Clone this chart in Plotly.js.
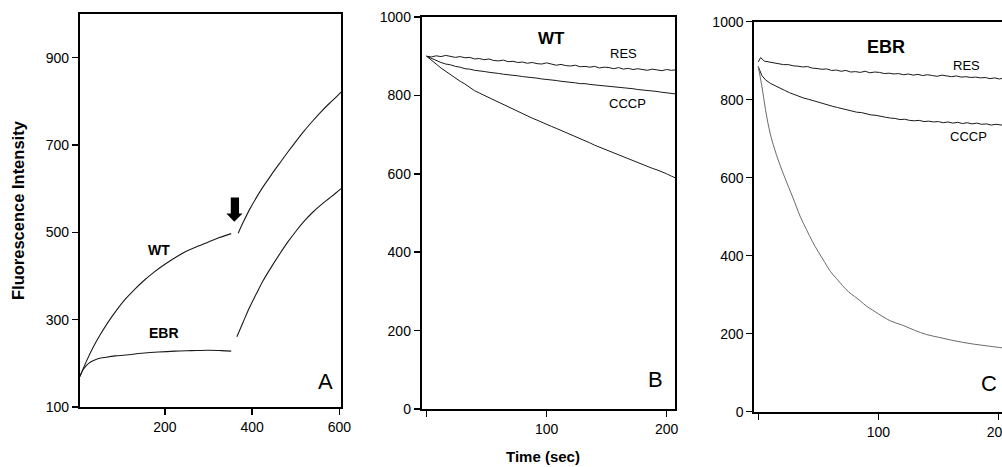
<!DOCTYPE html>
<html>
<head>
<meta charset="utf-8">
<script src="https://cdn.plot.ly/plotly-3.0.1.min.js"></script>
<style>html,body{margin:0;padding:0;background:#fff;}#chart{width:1002px;height:467px;}</style>
</head>
<body>
<div id="chart"></div>
<script>
// ---- Panel A data (time, fluorescence) ----
var aWT1x = [5, 20, 35, 50, 70, 90, 110, 130, 150, 175, 200, 225, 250, 275, 300, 325, 352];
var aWT1y = [170, 205, 236, 263, 295, 323, 348, 369, 388, 409, 427, 443, 457, 468, 478, 488, 497];
var aWT2x = [368, 380, 394, 410, 425, 445, 463, 482, 501, 520, 539, 558, 577, 592, 604];
var aWT2y = [498, 524, 552, 580, 604, 633, 658, 684, 709, 733, 755, 776, 795, 809, 821];
var aEBR1x = [5, 10, 17, 25, 35, 48, 65, 86, 110, 147, 185, 223, 260, 299, 330, 352];
var aEBR1y = [170, 182, 192, 200, 206, 211, 214, 217, 219, 223, 226, 228, 229, 230, 229, 228];
var aEBR2x = [365, 380, 394, 410, 425, 445, 463, 482, 501, 520, 539, 558, 577, 592, 604];
var aEBR2y = [261, 296, 328, 360, 389, 422, 450, 478, 503, 526, 546, 563, 578, 590, 600];

// ---- Panel B data (WT) ----
var tB = [0, 4, 8, 12, 16, 20, 24, 28, 32, 36, 40, 44, 48, 52, 56, 60, 64, 68, 72, 76, 80, 84, 88, 92, 96, 100,
          104, 108, 112, 116, 120, 124, 128, 132, 136, 140, 144, 148, 152, 156, 160, 164, 168, 172, 176, 180,
          184, 188, 192, 196, 200, 204, 207];
var bRES = [900, 898, 901, 899, 902, 900, 897, 899, 896, 897, 893, 894, 891, 893, 889, 888, 890, 886, 887, 884, 885,
            882, 884, 881, 880, 883, 879, 877, 879, 876, 875, 877, 873, 874, 872, 874, 870, 872, 871, 868, 871,
            867, 869, 866, 868, 866, 864, 867, 865, 863, 866, 864, 865];
var bCCCP = [900, 894, 889, 884, 880, 878, 874, 872, 868, 867, 864, 863, 861, 859, 858, 856, 854, 853, 851, 850, 848,
             847, 845, 844, 842, 841, 839, 838, 836, 835, 833, 832, 830, 830, 828, 827, 826, 824, 823, 822, 821,
             819, 818, 817, 815, 814, 812, 812, 810, 808, 807, 805, 804];
var bCtrl = [900, 891, 880, 870, 861, 852, 844, 836, 829, 820, 812, 806, 800, 794, 788, 782, 777, 771, 765, 759, 753,
             748, 742, 737, 731, 726, 721, 716, 711, 706, 701, 696, 690, 685, 679, 673, 668, 663, 657, 652, 647,
             642, 637, 633, 628, 624, 619, 614, 610, 606, 600, 594, 590];

// ---- Panel C data (EBR) ----
var tC = [0, 2, 5, 9, 13, 17, 21, 25, 29, 33, 37, 41, 45, 49, 53, 57, 61, 65, 69, 73, 77, 81, 85, 89, 93, 97, 101,
          105, 109, 113, 117, 121, 125, 129, 133, 137, 141, 145, 149, 153, 157, 161, 165, 169, 173, 177, 181,
          185, 189, 193, 197, 201, 203];
var cRES = [897, 908, 899, 897, 894, 893, 890, 890, 887, 886, 884, 885, 881, 880, 878, 879, 875, 876, 873, 875, 871,
            872, 870, 873, 869, 871, 870, 867, 868, 866, 867, 864, 866, 863, 865, 862, 864, 862, 860, 863, 861,
            859, 861, 858, 859, 857, 858, 856, 857, 854, 856, 853, 855];
var cCCCPt = [0, 3, 6, 10, 14, 18, 22, 26, 30, 34, 38, 42, 46, 50, 54, 58, 62, 66, 70, 74, 78, 82, 86, 90, 94, 98,
              102, 106, 110, 114, 118, 122, 126, 130, 134, 138, 142, 146, 150, 154, 158, 162, 166, 170, 174, 178,
              182, 186, 190, 194, 198, 203];
var cCCCP = [885, 862, 851, 842, 836, 829, 824, 818, 813, 809, 804, 801, 797, 793, 789, 787, 783, 780, 777, 775, 771,
             768, 767, 763, 761, 760, 757, 755, 753, 752, 749, 750, 747, 746, 747, 744, 745, 743, 744, 741, 743,
             740, 742, 739, 741, 738, 740, 737, 738, 735, 737, 735];
var cFastT = [0, 3, 6, 10, 15, 20, 25, 30, 35, 40, 45, 50, 55, 60, 65, 70, 75, 80, 85, 90, 95, 100,
              110, 120, 130, 140, 150, 160, 170, 180, 190, 200, 203];
var cFast = [885, 835, 775, 712, 660, 617, 578, 540, 500, 468, 437, 410, 385, 360, 342, 324, 308, 296, 284, 271, 261, 251,
             233, 222, 209, 198, 191, 184, 178, 173, 169, 165, 164];

// ---- tick labels ----
var aXticks = [200, 400, 600];
var aYticks = [100, 300, 500, 700, 900];
var bcXticks = [0, 100, 200];
var bcXlabels = ['', '100', '200'];
var bcYticks = [0, 200, 400, 600, 800, 1000];

var FONT = 'Arial, "Liberation Sans", Helvetica, sans-serif';
var lineDark = {color: '#1a1a1a', width: 1};
var lineSmooth = {color: '#1a1a1a', width: 1.1, shape: 'spline', smoothing: 1};
var lineGray = {color: '#6a6a6a', width: 1, shape: 'spline', smoothing: 1};

function tr(x, y, xa, ya, line) {
  return {x: x, y: y, xaxis: xa, yaxis: ya, type: 'scatter', mode: 'lines', line: line, hoverinfo: 'skip', showlegend: false};
}

var data = [
  tr(aWT1x, aWT1y, 'x', 'y', lineSmooth),
  tr(aWT2x, aWT2y, 'x', 'y', lineSmooth),
  tr(aEBR1x, aEBR1y, 'x', 'y', lineSmooth),
  tr(aEBR2x, aEBR2y, 'x', 'y', lineSmooth),
  tr(tB, bRES, 'x2', 'y2', lineDark),
  tr(tB, bCCCP, 'x2', 'y2', lineDark),
  tr(tB, bCtrl, 'x2', 'y2', lineDark),
  tr(tC, cRES, 'x3', 'y3', lineDark),
  tr(cCCCPt, cCCCP, 'x3', 'y3', lineDark),
  tr(cFastT, cFast, 'x3', 'y3', lineGray)
];

function axis(extra) {
  var base = {
    showgrid: false, zeroline: false, showline: true, linecolor: '#000', linewidth: 2,
    ticks: 'outside', ticklen: 6, tickwidth: 1.5, tickcolor: '#000', ticklabeloverflow: 'allow',
    tickfont: {family: FONT, size: 14, color: '#000'}, fixedrange: true
  };
  for (var k in extra) base[k] = extra[k];
  return base;
}

var layout = {
  width: 1002, height: 467,
  margin: {l: 0, r: 0, t: 0, b: 0},
  paper_bgcolor: '#fff', plot_bgcolor: '#fff',
  font: {family: FONT, color: '#000'},
  xaxis: axis({domain: [0.0798, 0.3408], range: [5, 605], tickmode: 'array', tickvals: aXticks, mirror: true, anchor: 'y'}),
  yaxis: axis({domain: [0.1285, 0.970], range: [100, 1000], tickmode: 'array', tickvals: aYticks, mirror: true, anchor: 'x'}),
  xaxis2: axis({domain: [0.4209, 0.6737], range: [-4, 207], tickmode: 'array', tickvals: bcXticks, ticktext: bcXlabels, mirror: true, anchor: 'y2'}),
  yaxis2: axis({domain: [0.1242, 0.9636], range: [0, 1000], tickmode: 'array', tickvals: bcYticks, mirror: true, anchor: 'x2'}),
  xaxis3: axis({domain: [0.7528, 1], range: [-3.3, 203], tickmode: 'array', tickvals: bcXticks, ticktext: bcXlabels, mirror: true, anchor: 'y3'}),
  yaxis3: axis({domain: [0.1184, 0.9535], range: [0, 1000], tickmode: 'array', tickvals: bcYticks, mirror: false, anchor: 'x3'}),
  shapes: [
    {type: 'path', xref: 'x', yref: 'y', fillcolor: '#000', line: {width: 0},
     path: 'M 351 580 L 370 580 L 370 543 L 378 543 L 359 524 L 341 543 L 351 543 Z'}
  ],
  annotations: [
    {xref: 'x', yref: 'y', x: 187, y: 459, text: '<b>WT</b>', showarrow: false, font: {size: 14}},
    {xref: 'x', yref: 'y', x: 198, y: 269, text: '<b>EBR</b>', showarrow: false, font: {size: 14}},
    {xref: 'x', yref: 'y', x: 568, y: 159, text: 'A', showarrow: false, font: {size: 22}},
    {xref: 'x2', yref: 'y2', x: 104, y: 946, text: '<b>WT</b>', showarrow: false, font: {size: 17}},
    {xref: 'x2', yref: 'y2', x: 164, y: 906, text: 'RES', showarrow: false, font: {size: 13}},
    {xref: 'x2', yref: 'y2', x: 167, y: 779, text: 'CCCP', showarrow: false, font: {size: 13}},
    {xref: 'x2', yref: 'y2', x: 191, y: 74, text: 'B', showarrow: false, font: {size: 22}},
    {xref: 'x3', yref: 'y3', x: 106, y: 936, text: '<b>EBR</b>', showarrow: false, font: {size: 18}},
    {xref: 'x3', yref: 'y3', x: 173.6, y: 889, text: 'RES', showarrow: false, font: {size: 13}},
    {xref: 'x3', yref: 'y3', x: 175, y: 705, text: 'CCCP', showarrow: false, font: {size: 13}},
    {xref: 'x3', yref: 'y3', x: 192.5, y: 73, text: 'C', showarrow: false, font: {size: 22}},
    {xref: 'paper', yref: 'paper', x: 18 / 1002, y: 1 - 210 / 467, text: '<b>Fluorescence Intensity</b>',
     textangle: -90, showarrow: false, font: {size: 16.5}, xanchor: 'center', yanchor: 'middle'},
    {xref: 'paper', yref: 'paper', x: 543 / 1002, y: 1 - 456 / 467, text: '<b>Time (sec)</b>',
     showarrow: false, font: {size: 15}, xanchor: 'center', yanchor: 'middle'}
  ]
};

Plotly.newPlot('chart', data, layout, {staticPlot: true, displayModeBar: false});
</script>
</body>
</html>
